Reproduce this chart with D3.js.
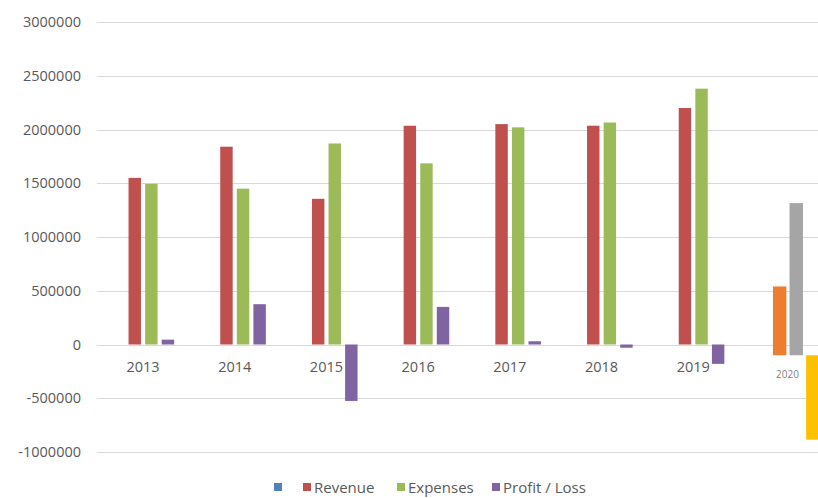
<!DOCTYPE html>
<html>
<head>
<meta charset="utf-8">
<script src="https://cdn.jsdelivr.net/npm/d3@7"></script>
<style>
  body { margin: 0; background: #fff; }
  svg { display: block; font-family: "Open Sans", "Liberation Sans", sans-serif; }
</style>
</head>
<body>
<div id="chart"></div>
<script>
// data
var years = ["2013", "2014", "2015", "2016", "2017", "2018", "2019"];
var revenue = [1550000, 1840000, 1355000, 2035000, 2050000, 2035000, 2200000];
var expenses = [1495000, 1450000, 1870000, 1685000, 2020000, 2065000, 2380000];
var profitLoss = [45000, 375000, -525000, 350000, 30000, -30000, -180000];
var series = ["blank", "Revenue", "Expenses", "Profit / Loss"];
var seriesColors = ["#4f81bd", "#c0504d", "#9bbb59", "#8064a2"];

// 2020 is a pasted-in piece with its own baseline
var year2020 = "2020";
var base2020 = -100000;
var series2020 = ["Revenue", "Expenses", "Profit / Loss"];
var values2020 = [540000, 1315000, -885000];
var colors2020 = ["#ed7d31", "#a5a5a5", "#ffc000"];

var yTicks = [-1000000, -500000, 0, 500000, 1000000, 1500000, 2000000, 2500000, 3000000];

var width = 818, height = 498;

var svg = d3.select("#chart").append("svg")
    .attr("width", width)
    .attr("height", height);

var y = d3.scaleLinear()
    .domain([-1000000, 3000000])
    .range([452, 22]);

var x0 = d3.scaleBand()
    .domain(years.concat([year2020]))
    .range([97.2, 97.2 + 8 * 91.7]);

var x1 = d3.scaleBand()
    .domain(series)
    .range([0, x0.bandwidth()])
    .paddingInner(0.25)
    .paddingOuter(0.89);

// gridlines
svg.append("g")
    .selectAll("line")
    .data(yTicks)
    .join("line")
    .attr("x1", 97)
    .attr("x2", width)
    .attr("y1", d => Math.round(y(d)) + 0.5)
    .attr("y2", d => Math.round(y(d)) + 0.5)
    .attr("stroke", "#d9d9d9")
    .attr("stroke-width", 1);

// y labels
svg.append("g")
    .selectAll("text")
    .data(yTicks)
    .join("text")
    .attr("x", 81)
    .attr("y", d => y(d) + 5)
    .attr("text-anchor", "end")
    .attr("font-size", 14.5)
    .attr("fill", "#595959")
    .text(d => d);

// main bars
var rows = years.map((yr, i) => ({
    year: yr,
    vals: [
        { s: "Revenue", v: revenue[i] },
        { s: "Expenses", v: expenses[i] },
        { s: "Profit / Loss", v: profitLoss[i] }
    ]
}));

var color = d3.scaleOrdinal().domain(series).range(seriesColors);

var group = svg.append("g")
    .selectAll("g")
    .data(rows)
    .join("g")
    .attr("transform", d => `translate(${x0(d.year)},0)`);

group.selectAll("rect")
    .data(d => d.vals)
    .join("rect")
    .attr("x", d => x1(d.s))
    .attr("width", x1.bandwidth())
    .attr("y", d => Math.min(y(d.v), y(0)))
    .attr("height", d => Math.abs(y(d.v) - y(0)))
    .attr("fill", d => color(d.s));

// category labels
svg.append("g")
    .selectAll("text")
    .data(years)
    .join("text")
    .attr("x", d => x0(d) + x0.bandwidth() / 2)
    .attr("y", 372)
    .attr("text-anchor", "middle")
    .attr("font-size", 14.5)
    .attr("fill", "#595959")
    .text(d => d);

// 2020 piece
var shift = 2.5;
svg.append("g")
    .attr("transform", `translate(${x0(year2020) + shift},0)`)
    .selectAll("rect")
    .data(series2020.map((s, i) => ({ s: s, v: values2020[i], c: colors2020[i] })))
    .join("rect")
    .attr("x", d => x1(d.s))
    .attr("width", x1.bandwidth() + 1)
    .attr("y", d => Math.min(y(d.v), y(base2020)))
    .attr("height", d => Math.abs(y(d.v) - y(base2020)))
    .attr("fill", d => d.c);

svg.append("text")
    .attr("x", x0(year2020) + x0.bandwidth() / 2 + shift)
    .attr("y", 378)
    .attr("text-anchor", "middle")
    .attr("font-size", 10)
    .attr("fill", "#7f7f7f")
    .text(year2020);

// legend
var legendX = [274, 303, 397, 492];
var legend = svg.append("g")
    .selectAll("g")
    .data(series)
    .join("g")
    .attr("transform", (d, i) => `translate(${legendX[i]},483)`);

legend.append("rect")
    .attr("width", 8)
    .attr("height", 8)
    .attr("fill", d => color(d));

legend.append("text")
    .attr("x", 11)
    .attr("y", 9.5)
    .attr("font-size", 15)
    .attr("fill", "#595959")
    .text(d => d === "blank" ? "" : d);
</script>
</body>
</html>
